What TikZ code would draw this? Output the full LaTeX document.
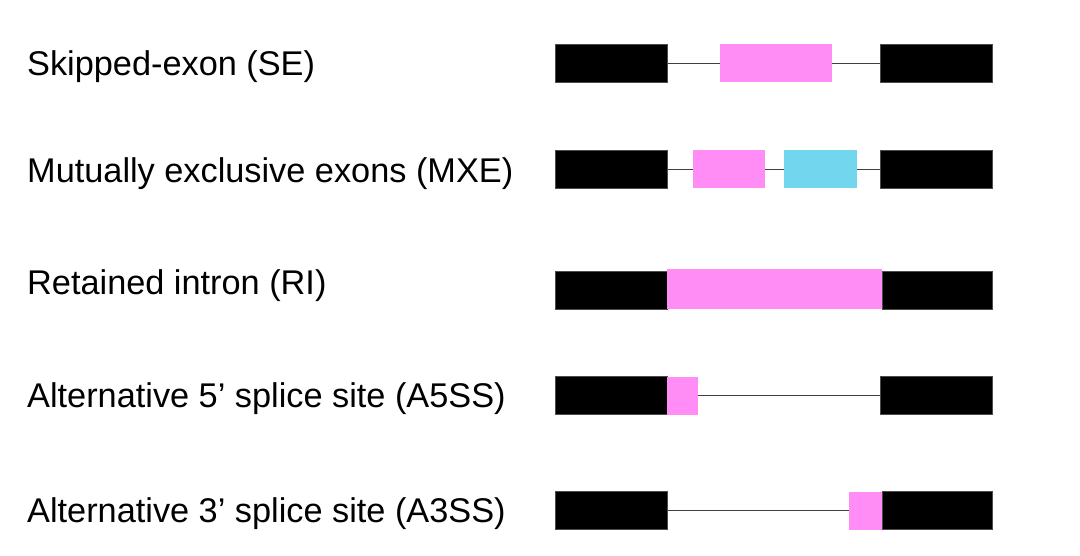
\documentclass[tikz,border=0pt]{standalone}
\usepackage{fontspec}
\setmainfont{Liberation Sans}
\usepackage{xcolor}
\definecolor{exonpink}{HTML}{FF8DF5}
\definecolor{exoncyan}{HTML}{72D7EE}
\tikzset{
    exon/.style={inner sep=0pt, anchor=west, minimum height=38},
    const/.style={exon, fill=black, draw=black!70, line width=0.5pt},
    alt/.style={exon, fill=exonpink},
    altb/.style={exon, fill=exoncyan},
    intron/.style={draw=black!75, line width=0.9pt},
    evlabel/.style={anchor=base west, inner sep=0pt, font=\fontsize{34.3}{40}\selectfont}
}

\begin{document}
\begin{tikzpicture}[x=1pt, y=-1pt]
    \useasboundingbox (0,0) rectangle (1080,556);
    % labels
    \node[evlabel] (se) at (27,75.7) {Skipped-exon (SE)};
    \node[evlabel] (mxe) at (27,182.3) {Mutually exclusive exons (MXE)};
    \node[evlabel] (ri) at (27,294.3) {Retained intron (RI)};
    \node[evlabel] (afive) at (27,407.3) {Alternative 5’ splice site (A5SS)};
    \node[evlabel] (athree) at (27,522.3) {Alternative 3’ splice site (A3SS)};
    % SE
    \node[const, minimum width=112] (seA) at (555,63) {};
    \node[alt, minimum width=112] (seX) at (720,63) {};
    \node[const, minimum width=112] (seB) at (880,63) {};
    \draw[intron] (seA) -- (seX);
    \draw[intron] (seX) -- (seB);
    % MXE
    \node[const, minimum width=112] (mxeA) at (555,169) {};
    \node[alt, minimum width=72] (mxeX) at (693,169) {};
    \node[altb, minimum width=73] (mxeY) at (784,169) {};
    \node[const, minimum width=112] (mxeB) at (880,169) {};
    \draw[intron] (mxeA) -- (mxeX);
    \draw[intron] (mxeX) -- (mxeY);
    \draw[intron] (mxeY) -- (mxeB);
    % RI
    \node[const, minimum width=112] (riA) at (555,290) {};
    \node[alt, minimum width=215, minimum height=40] (riX) at (667,289) {};
    \node[const, minimum width=110] (riB) at (882,290) {};
    % A5SS
    \node[const, minimum width=112] (afA) at (555,395.5) {};
    \node[alt, minimum width=31] (afX) at (667,395.5) {};
    \node[const, minimum width=112] (afB) at (880,395.5) {};
    \draw[intron] (afX) -- (afB);
    % A3SS
    \node[const, minimum width=112] (atA) at (555,510.5) {};
    \node[alt, minimum width=33] (atX) at (849,510.5) {};
    \node[const, minimum width=110] (atB) at (882,510.5) {};
    \draw[intron] (atA) -- (atX);
\end{tikzpicture}
\end{document}
